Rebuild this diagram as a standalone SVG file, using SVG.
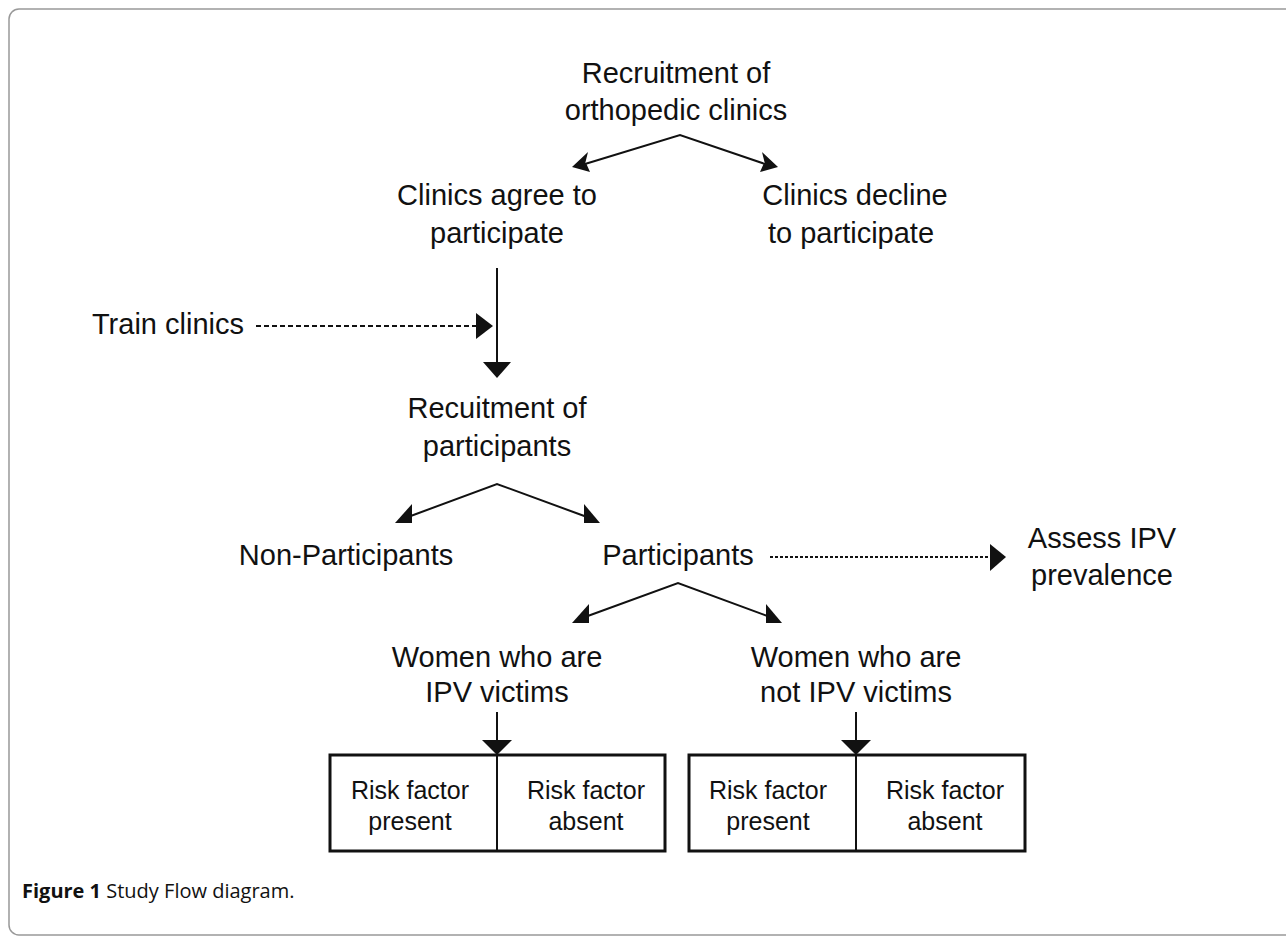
<svg xmlns="http://www.w3.org/2000/svg" width="1286" height="939" viewBox="0 0 1286 939">
<style>
.t{font-family:"Liberation Sans",Arial,sans-serif;font-size:29px;fill:#111;text-anchor:middle}
.s{font-family:"Liberation Sans",Arial,sans-serif;font-size:25px;fill:#111;text-anchor:middle}
.ln{stroke:#111;stroke-width:2;fill:none}
.dash{stroke:#111;stroke-width:2;fill:none;stroke-dasharray:5 3}
.dot{stroke:#111;stroke-width:2;fill:none;stroke-dasharray:3 2}
.box{stroke:#111;stroke-width:3;fill:#fff}
.cap{font-family:"Open Sans","Noto Sans",sans-serif;font-size:20px;fill:#111}
</style>
<defs>
<marker id="ah" viewBox="0 0 10 10" refX="10" refY="5" markerWidth="8" markerHeight="8" markerUnits="userSpaceOnUse" orient="auto">
<path d="M0,0 L10,5 L0,10 Z" fill="#111"/>
</marker>
</defs>
<rect x="9" y="9" width="1300" height="926" rx="10" fill="#fff" stroke="#999" stroke-width="1.5"/>
<g id="connectors">
<polyline class="ln" points="585,164 680,135 765,164"/>
<path d="M585,164 L572,167 L588,152 Z M586,163 L590,172 L572,167 Z" fill="#111"/>
<path d="M765,164 L778,167 L762,152 Z M764,163 L760,172 L778,167 Z" fill="#111"/>
<line class="ln" x1="497" y1="268" x2="497" y2="364"/>
<path d="M483,362 L511,362 L497,378 Z" fill="#111"/>
<line class="dash" x1="256" y1="326" x2="477" y2="326"/>
<path d="M476,313 L493,326 L476,339 Z" fill="#111"/>
<polyline class="ln" points="408,517 497,484 587,517"/>
<path d="M395,523 L412,504 L412,523 Z" fill="#111"/>
<path d="M600,523 L584,504 L584,523 Z" fill="#111"/>
<line class="dot" x1="770" y1="557" x2="991" y2="557"/>
<path d="M990,544 L1006,557 L990,571 Z" fill="#111"/>
<polyline class="ln" points="585,617 678,583 770,617"/>
<path d="M572,623 L589,604 L589,623 Z" fill="#111"/>
<path d="M782,623 L766,604 L766,623 Z" fill="#111"/>
<line class="ln" x1="497" y1="712" x2="497" y2="742"/>
<path d="M482,740 L512,740 L497,755 Z" fill="#111"/>
<line class="ln" x1="856" y1="712" x2="856" y2="742"/>
<path d="M841,740 L871,740 L856,755 Z" fill="#111"/>
</g>
<g id="n-recruit-clinics"><text class="t" x="676" y="83">Recruitment of</text><text class="t" x="676" y="120">orthopedic clinics</text></g>
<g id="n-agree"><text class="t" x="497" y="205">Clinics agree to</text><text class="t" x="497" y="243">participate</text></g>
<g id="n-decline"><text class="t" x="855" y="205">Clinics decline</text><text class="t" x="851" y="243">to participate</text></g>
<g id="n-train"><text class="t" x="168" y="334">Train clinics</text></g>
<g id="n-recruit-part"><text class="t" x="497" y="418">Recuitment of</text><text class="t" x="497" y="456">participants</text></g>
<g id="n-nonpart"><text class="t" x="346" y="565">Non-Participants</text></g>
<g id="n-part"><text class="t" x="678" y="565">Participants</text></g>
<g id="n-assess"><text class="t" x="1102" y="548">Assess IPV</text><text class="t" x="1102" y="585">prevalence</text></g>
<g id="n-victims"><text class="t" x="497" y="667">Women who are</text><text class="t" x="497" y="702">IPV victims</text></g>
<g id="n-notvictims"><text class="t" x="856" y="667">Women who are</text><text class="t" x="856" y="702">not IPV victims</text></g>
<g id="n-box1">
<rect class="box" x="330" y="755" width="335" height="96"/>
<line class="ln" x1="497" y1="755" x2="497" y2="851"/>
<text class="s" x="410" y="799">Risk factor</text><text class="s" x="410" y="830">present</text>
<text class="s" x="586" y="799">Risk factor</text><text class="s" x="586" y="830">absent</text>
</g>
<g id="n-box2">
<rect class="box" x="689" y="755" width="336" height="96"/>
<line class="ln" x1="856" y1="755" x2="856" y2="851"/>
<text class="s" x="768" y="799">Risk factor</text><text class="s" x="768" y="830">present</text>
<text class="s" x="945" y="799">Risk factor</text><text class="s" x="945" y="830">absent</text>
</g>
<g id="caption"><text class="cap" x="22" y="898"><tspan font-weight="bold">Figure 1</tspan> Study Flow diagram.</text></g>
</svg>
